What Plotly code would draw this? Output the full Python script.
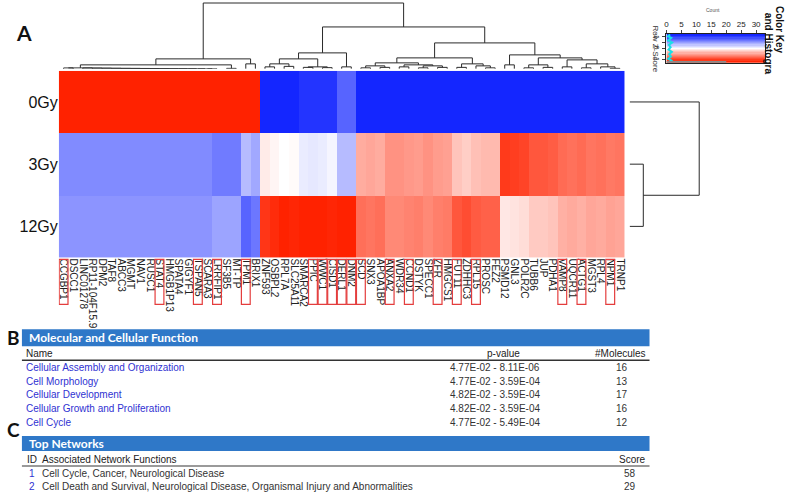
import plotly.graph_objects as go

W, H = 786, 493


def px(x):
    return x / W


def py(y):
    return 1 - y / H


# ---------------- data ----------------
genes = ["CCGBP1", "DSCC1", "LINC01278", "RP11-104F15.9", "DPM2", "TAF8", "ABCC3", "MGMT",
         "NAV1", "RUSC1", "STAT4", "HMGB1P13", "SPATA4", "GIGYF1", "TSPAN5", "SCARA3",
         "LRRFIP1", "SF3B5", "MT-TP", "TPM1", "BRIX1", "ZNF593", "OSBPL2", "RPL7A",
         "SLC25A11", "SMARCA2", "PPIC", "WWC1", "CISD1", "DERL1", "DNM2", "SCD", "SNX3",
         "APOA1BP", "ANXA2", "WDR34", "CCND1", "DSTYK", "SPECC1", "ZFR", "HMGCS1", "FUT11",
         "ZDHHC3", "RPL15", "PROSC", "FEZ2", "PSMD12", "GNL3", "POLR2C", "TUBB6", "JUP",
         "PDHA1", "VAMP8", "UQCR11", "ACTG1", "MGST3", "RPL4", "NPM1", "TRNP1"]

boxed_genes = ["CCGBP1", "STAT4", "TSPAN5", "LRRFIP1", "TPM1", "PPIC", "WWC1", "CISD1",
               "DERL1", "DNM2", "SCD", "ANXA2", "CCND1", "ZFR", "FUT11", "RPL15", "VAMP8",
               "ACTG1", "NPM1"]

samples = ["0Gy", "3Gy", "12Gy"]

z_0gy = [1.15, 1.15, 1.15, 1.15, 1.15, 1.15, 1.15, 1.15, 1.15, 1.15, 1.15, 1.15, 1.15, 1.15,
         1.15, 1.15, 1.15, 1.15, 1.15, 1.15, 1.15,
         -1.12, -1.12, -1.12, -1.12, -1.05, -1.05, -1.05, -1.05, -0.8, -0.8,
         -1.15, -1.15, -1.15, -1.15, -1.15, -1.15, -1.15, -1.15, -1.15, -1.15, -1.15, -1.15,
         -1.15, -1.15, -1.15, -1.12, -1.12, -1.12, -1.12, -1.12, -1.12,
         -1.15, -1.15, -1.15, -1.15, -1.15, -1.15, -1.15]

z_3gy = [-0.6, -0.6, -0.6, -0.6, -0.6, -0.6, -0.6, -0.6, -0.6, -0.6, -0.6, -0.6,
         -0.6, -0.6, -0.6, -0.6, -0.68, -0.68, -0.68, -0.35, -0.45,
         0.1, 0.05, 0.0, 0.02, -0.1, -0.12, -0.1, -0.05, -0.35, -0.35,
         0.42, 0.45, 0.42, 0.55, 0.55, 0.52, 0.5, 0.55, 0.5, 0.48, 0.3, 0.25, 0.32, 0.35, 0.35,
         1.0, 0.98, 0.95, 0.85, 0.85, 0.82, 0.75, 0.72, 0.75, 0.7, 0.72, 0.68, 0.7]

z_12gy = [-0.55, -0.55, -0.55, -0.55, -0.55, -0.55, -0.55, -0.55, -0.55, -0.55, -0.55, -0.55,
          -0.55, -0.55, -0.55, -0.55, -0.47, -0.47, -0.47, -0.8, -0.7,
          1.02, 1.07, 1.12, 1.10, 1.15, 1.17, 1.15, 1.10, 1.15, 1.15,
          0.73, 0.7, 0.73, 0.6, 0.6, 0.63, 0.65, 0.6, 0.65, 0.67, 0.85, 0.9, 0.83, 0.8, 0.8,
          0.12, 0.14, 0.17, 0.27, 0.27, 0.3, 0.4, 0.43, 0.4, 0.45, 0.43, 0.47, 0.45]

# column dendrogram (height, left, right); leaves are column indices
col_tree = [66,
            [10,
             [4,
              [1.0, [0.9, 0, 1],
               [0.8, 2, [0.7, 3, [0.6, 4, [0.5, 5, [0.45, 6, [0.4, 7, [0.35, 8, [0.3, 9,
                [0.25, 10, [0.2, 11, [0.18, 12, [0.15, 13, [0.12, 14, [0.1, 15, 16]]]]]]]]]]]]]]],
              [0.5, 17, 18]],
             [5, 19, 20]],
            [42,
             [16,
              [10, [5, [2, 21, 22], [2.5, 23, 24]], [2, [1.5, 25, 26], [1.2, 27, 28]]],
              [2, 29, 30]],
             [26,
              [11,
               [6, [3, [1, 31, 32], [1.5, 33, 34]], [4, [2, 35, 36], [3, [1, 37, 38], [1.5, 39, 40]]]],
               [5, [1.5, 41, 42], [3, 43, [1, 44, 45]]]],
              [14,
               [4, 46, 47],
               [11, [4, [1, 48, 49], [1.5, 50, 51]],
                [9, [2, 52, 53], [5, [1, 54, 55], [2, 56, [0.5, 57, 58]]]]]]]]]

row_tree = [66, 0, [13, 1, 2]]

# color key
key_levels = [-1.2, -1.1, -1.0, -0.9, -0.8, -0.7, -0.6, -0.5, -0.4, -0.3, -0.2, -0.1, 0.0,
              0.1, 0.2, 0.3, 0.4, 0.5, 0.6, 0.7, 0.8, 0.9, 1.0, 1.1, 1.2]
key_counts_ticks = [0, 5, 10, 15, 20, 25, 30]
density_y = [-1.2, -1.05, -0.9, -0.7, -0.5, -0.3, -0.1, 0.1, 0.3, 0.5, 0.7, 0.9, 1.05, 1.2]
density_x = [1.2, 0.5, 1.6, 0.6, 1.9, 0.8, 1.4, 0.7, 1.8, 0.9, 1.5, 0.6, 1.7, 1.3]
hist_bar_count = 20

# tables
mcf_names = ["Cellular Assembly and Organization", "Cell Morphology", "Cellular Development",
             "Cellular Growth and Proliferation", "Cell Cycle"]
mcf_pvalues = ["4.77E-02 - 8.11E-06", "4.77E-02 - 3.59E-04", "4.82E-02 - 3.59E-04",
               "4.82E-02 - 3.59E-04", "4.77E-02 - 5.49E-04"]
mcf_molecules = [16, 13, 17, 16, 12]
net_ids = [1, 2]
net_functions = ["Cell Cycle, Cancer, Neurological Disease",
                 "Cell Death and Survival, Neurological Disease, Organismal Injury and Abnormalities"]
net_scores = [58, 29]

# ---------------- helpers ----------------
COLORSCALE = [[0, "#1426ff"], [0.5, "#ffffff"], [1, "#ff2200"]]
ZMAX = 1.12


def dendro(node):
    if isinstance(node, int):
        return node, 0.0, []
    h, l, r = node
    xl, hl, sl = dendro(l)
    xr, hr, sr = dendro(r)
    segs = sl + sr + [[(xl, hl), (xl, h), (xr, h), (xr, hr)]]
    return (xl + xr) / 2, h, segs


def seg_xy(segs, swap=False):
    xs, ys = [], []
    for s in segs:
        for a, b in s:
            if swap:
                xs.append(b)
                ys.append(a)
            else:
                xs.append(a)
                ys.append(b)
        xs.append(None)
        ys.append(None)
    return xs, ys


fig = go.Figure()

# heatmap
fig.add_trace(go.Heatmap(z=[z_0gy, z_3gy, z_12gy], x=list(range(len(genes))), y=[0, 1, 2],
                         colorscale=COLORSCALE, zmin=-ZMAX, zmax=ZMAX, showscale=False,
                         hoverinfo="skip", xaxis="x", yaxis="y"))

# column dendrogram
_, _, csegs = dendro(col_tree)
cx, cy = seg_xy(csegs)
fig.add_trace(go.Scatter(x=cx, y=cy, mode="lines", line=dict(color="#2a2a2a", width=1),
                         xaxis="x", yaxis="y2", hoverinfo="skip", showlegend=False))

# row dendrogram
_, _, rsegs = dendro(row_tree)
rx, ry = seg_xy(rsegs, swap=True)
fig.add_trace(go.Scatter(x=rx, y=ry, mode="lines", line=dict(color="#2a2a2a", width=1),
                         xaxis="x2", yaxis="y", hoverinfo="skip", showlegend=False))

# color key
fig.add_trace(go.Heatmap(z=[[v, v] for v in key_levels], x=[8.25, 24.75], y=key_levels,
                         colorscale=COLORSCALE, zmin=-ZMAX, zmax=ZMAX, showscale=False,
                         hoverinfo="skip", xaxis="x3", yaxis="y3"))
fig.add_trace(go.Scatter(x=density_x, y=density_y, mode="lines",
                         line=dict(color="#19e0e8", width=2), xaxis="x3", yaxis="y3",
                         hoverinfo="skip", showlegend=False))
fig.add_trace(go.Scatter(x=[0, hist_bar_count], y=[1.17, 1.17], mode="lines",
                         line=dict(color="#8a8a8a", width=2), xaxis="x3", yaxis="y3",
                         hoverinfo="skip", showlegend=False))

# ---------------- shapes ----------------
shapes = []
for g in boxed_genes:
    c = genes.index(g)
    shapes.append(dict(type="rect", xref="x", yref="paper", x0=c - 0.46, x1=c + 0.46,
                       y0=py(304), y1=py(259), line=dict(color="#e43d3d", width=1.2)))

BAR = "#2f78c8"
# table B
shapes.append(dict(type="rect", xref="paper", yref="paper", x0=px(20), x1=px(650),
                   y0=py(346), y1=py(329), fillcolor=BAR, line=dict(width=0)))
shapes.append(dict(type="line", xref="paper", yref="paper", x0=px(20), x1=px(650),
                   y0=py(360), y1=py(360), line=dict(color="#333333", width=1.5)))
# table C
shapes.append(dict(type="rect", xref="paper", yref="paper", x0=px(20), x1=px(650),
                   y0=py(451), y1=py(436), fillcolor=BAR, line=dict(width=0)))
shapes.append(dict(type="line", xref="paper", yref="paper", x0=px(20), x1=px(650),
                   y0=py(466), y1=py(466), line=dict(color="#9a9a9a", width=2)))

# ---------------- annotations ----------------
ann = []
TXT = "Liberation Sans, Arial, sans-serif"
HDR = "Lato, Liberation Sans, sans-serif"


def add(text, x, y, size=10, color="#222222", xanchor="left", bold=False, family=TXT,
        angle=0, yanchor="middle"):
    ann.append(dict(text=("<b>%s</b>" % text) if bold else text, x=px(x), y=py(y),
                    xref="paper", yref="paper", showarrow=False, xanchor=xanchor,
                    yanchor=yanchor, textangle=angle,
                    font=dict(size=size, color=color, family=family)))


add("A", 12, 32, size=21, color="#111111", bold=True, family=HDR)
add("B", 3, 337, size=19, color="#111111", bold=True, family=HDR)
add("C", 3, 429, size=19, color="#111111", bold=True, family=HDR)

add("Molecular and Cellular Function", 25, 337.5, size=12, color="#ffffff", bold=True, family=HDR)
add("Name", 22, 353, size=10)
add("p-value", 503, 353, size=10, xanchor="center")
add("#Molecules", 648, 353, size=10, xanchor="right")
row_y = [367, 381, 394.5, 408, 422]
for n, p, m, yy in zip(mcf_names, mcf_pvalues, mcf_molecules, row_y):
    add(n, 22, yy, size=10, color="#2f32d2")
    add(p, 495, yy, size=10, color="#333333", xanchor="center")
    add(str(m), 622, yy, size=10, color="#333333", xanchor="center")

add("Top Networks", 25, 443.5, size=12, color="#ffffff", bold=True, family=HDR)
add("ID  Associated Network Functions", 23, 459, size=10)
add("Score", 648, 459, size=10, xanchor="right")
net_y = [473, 486]
for i, f, s, yy in zip(net_ids, net_functions, net_scores, net_y):
    add(str(i), 25, yy, size=10, color="#2f32d2")
    add(f, 38, yy, size=10, color="#333333")
    add(str(s), 630, yy, size=10, color="#333333", xanchor="center")

# color key texts
add("Row Z-Score", 656, 48, size=8, color="#333333", xanchor="center", angle=90)
add("Count", 714, 9, size=5, color="#555555", xanchor="center")
add("Color Key", 780, 29, size=10, color="#111111", bold=True, xanchor="center", angle=90)
add("and Histogra", 769, 43, size=10, color="#111111", bold=True, xanchor="center", angle=90)

fig.update_layout(
    width=W, height=H, margin=dict(l=0, r=0, t=0, b=0),
    paper_bgcolor="white", plot_bgcolor="white", showlegend=False,
    shapes=shapes, annotations=ann,
    xaxis=dict(domain=[px(57), px(625)], range=[-0.5, len(genes) - 0.5], anchor="y",
               tickmode="array", tickvals=list(range(len(genes))), ticktext=genes,
               tickangle=90, tickfont=dict(size=10, color="#222222", family=TXT),
               showgrid=False, zeroline=False, showline=False, ticks=""),
    yaxis=dict(domain=[py(257), py(70)], range=[2.5, -0.5], anchor="x",
               tickmode="array", tickvals=[0, 1, 2], ticktext=samples,
               tickfont=dict(size=16, color="#111111", family=TXT),
               showgrid=False, zeroline=False, showline=False, ticks=""),
    yaxis2=dict(domain=[py(68), py(0)], range=[0, 68], anchor="x", visible=False),
    xaxis2=dict(domain=[px(630), px(702)], range=[0, 68], anchor="y", visible=False),
    xaxis3=dict(domain=[px(667), px(766)], range=[0, 33], anchor="y3", side="top",
                tickmode="array", tickvals=key_counts_ticks, ticks="outside", ticklen=3,
                tickfont=dict(size=8, color="#222222", family=TXT), showgrid=False,
                zeroline=False, showline=True, mirror=True, linecolor="#222222", linewidth=1),
    yaxis3=dict(domain=[py(62), py(33)], range=[1.25, -1.25], anchor="x3",
                tickmode="array", tickvals=[-1, -0.5, 0, 0.5, 1], ticktext=["-1", "", "0", "", "1"],
                ticks="outside", ticklen=3, tickangle=90,
                tickfont=dict(size=7, color="#222222", family=TXT), showgrid=False,
                zeroline=False, showline=True, mirror=True, linecolor="#222222", linewidth=1),
)

fig.write_html("out.html", config={"displayModeBar": False},
               post_script="document.body.style.margin='0';document.body.style.padding='0';"
                           "document.documentElement.style.overflow='hidden';")
